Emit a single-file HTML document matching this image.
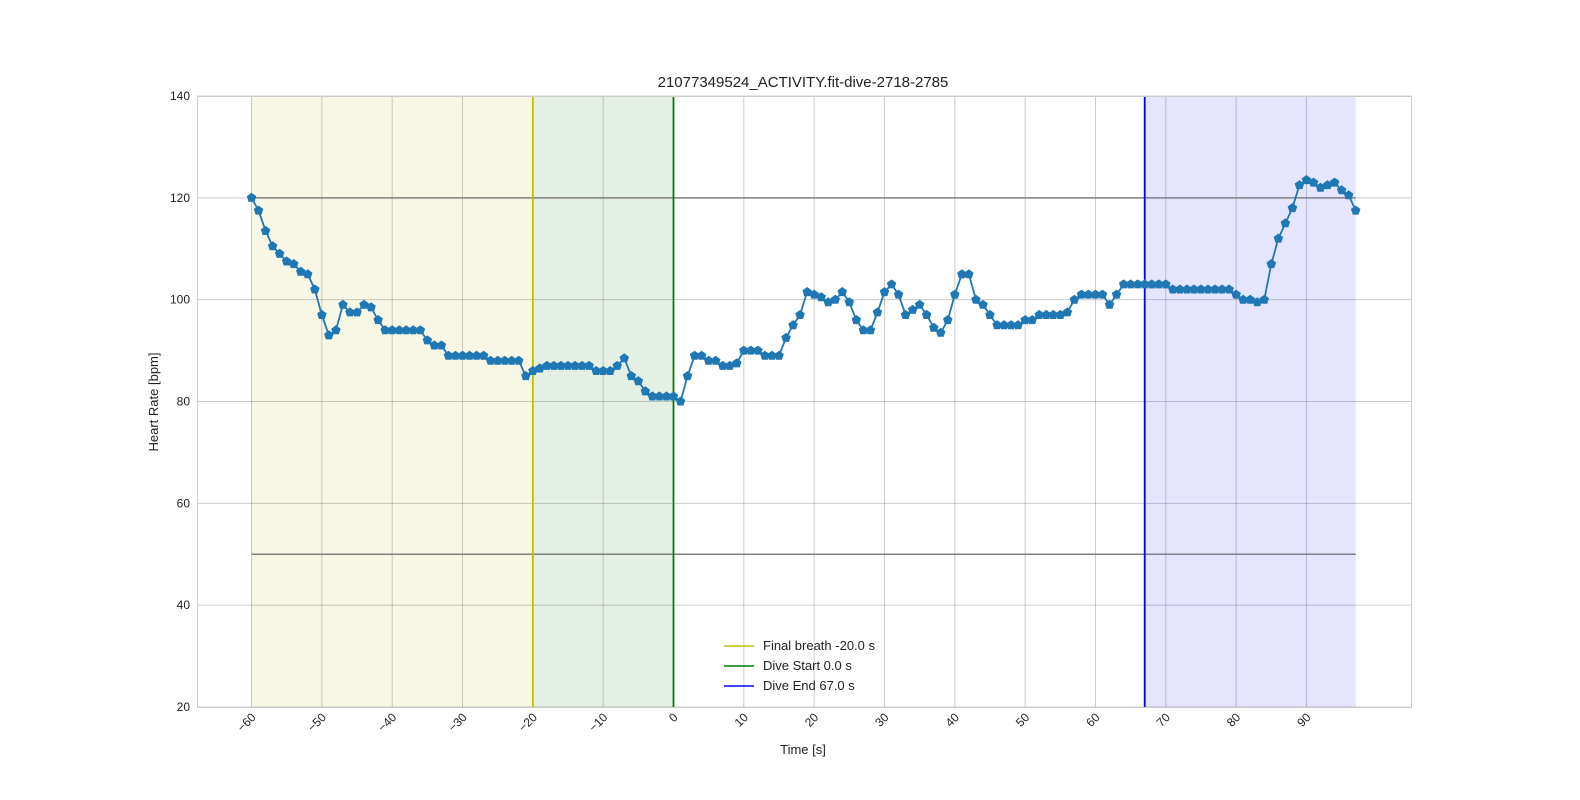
<!DOCTYPE html>
<html><head><meta charset="utf-8"><style>
body{margin:0;background:#fff;}
svg{display:block;font-family:"Liberation Sans",Arial,sans-serif;}
</style></head><body>
<svg id="s" width="1580" height="800" xmlns="http://www.w3.org/2000/svg">
<rect width="1580" height="800" fill="#fff"/>
<g id="bg"></g>
<g id="grid"></g>
<g id="lines"></g>
<g id="data"></g>
<rect x="197.5" y="96.5" width="1214" height="611" fill="none" stroke="#ccc" stroke-width="1"/>
<text x="803" y="87" font-size="15" text-anchor="middle" fill="#222">21077349524_ACTIVITY.fit-dive-2718-2785</text>
<text x="803" y="754" font-size="13" text-anchor="middle" fill="#222">Time [s]</text>
<text transform="translate(158,402) rotate(-90)" font-size="13" text-anchor="middle" fill="#222">Heart Rate [bpm]</text>
<g id="ticks" font-size="12" fill="#222"></g>
<g font-size="13" fill="#222">
<line x1="724" y1="646" x2="754" y2="646" stroke="#bfbf00" stroke-width="1.5"/><text x="763" y="650">Final breath -20.0 s</text>
<line x1="724" y1="666" x2="754" y2="666" stroke="#008000" stroke-width="1.5"/><text x="763" y="670">Dive Start 0.0 s</text>
<line x1="724" y1="686" x2="754" y2="686" stroke="#0000ff" stroke-width="1.5"/><text x="763" y="690">Dive End 67.0 s</text>
</g>
</svg>
<script>
const NS="http://www.w3.org/2000/svg";
const X=t=>673.5+7.033*t, Y=v=>96+(140-v)*5.0917;
function el(p,tag,a){const e=document.createElementNS(NS,tag);for(const k in a)e.setAttribute(k,a[k]);document.getElementById(p).appendChild(e);return e;}
el("bg","rect",{x:X(-60),y:96,width:X(-20)-X(-60),height:611,fill:"#f8f7e5"});
el("bg","rect",{x:X(-20),y:96,width:X(0)-X(-20),height:611,fill:"#e5f0e5"});
el("bg","rect",{x:X(67),y:96,width:X(97)-X(67),height:611,fill:"#e5e5ff"});
for(let t=-60;t<=90;t+=10){const x=X(t);el("grid","line",{x1:x,y1:96,x2:x,y2:707,stroke:"#000",  "stroke-opacity":0.2,"stroke-width":1});
 const tx=el("ticks","text",{transform:`translate(${x+5},${718}) rotate(-45)`,"text-anchor":"end"});tx.textContent=(t<0?"\u2212"+(-t):t);}
for(let v=20;v<=140;v+=20){const y=Y(v);el("grid","line",{x1:197,y1:y,x2:1411,y2:y,stroke:"#000","stroke-opacity":0.2,"stroke-width":1});
 const tx=el("ticks","text",{x:190,y:y+4,"text-anchor":"end"});tx.textContent=v;}
el("lines","line",{x1:X(-60),y1:Y(120),x2:X(97),y2:Y(120),stroke:"#808080","stroke-width":1.5});
el("lines","line",{x1:X(-60),y1:Y(50),x2:X(97),y2:Y(50),stroke:"#808080","stroke-width":1.5});
el("lines","line",{x1:X(-20),y1:96,x2:X(-20),y2:707,stroke:"#bfbf00","stroke-width":1.8});
el("lines","line",{x1:X(0),y1:96,x2:X(0),y2:707,stroke:"#008000","stroke-width":1.8});
el("lines","line",{x1:X(67),y1:96,x2:X(67),y2:707,stroke:"#0000ff","stroke-width":1.8});
const d=[120,117.5,113.5,110.5,109,107.5,107,105.5,105,102,97,93,94,99,97.5,97.5,99,98.5,96,94,94,94,94,94,94,92,91,91,89,89,89,89,89,89,88,88,88,88,88,85,86,86.5,87,87,87,87,87,87,87,86,86,86,87,88.5,85,84,82,81,81,81,81,
80,85,89,89,88,88,87,87,87.5,90,90,90,89,89,89,92.5,95,97,101.5,101,100.5,99.5,100,101.5,99.5,96,94,94,97.5,101.5,103,101,97,98,99,97,94.5,93.5,96,101,105,105,100,99,97,95,95,95,95,96,96,97,97,97,97,97.5,100,101,101,101,101,99,101,103,103,103,103,103,103,103,102,102,102,102,102,102,102,102,102,101,100,100,99.5,100,107,112,115,118,122.5,123.5,123,122,122.5,123,121.5,120.5,117.5];
let pts=d.map((v,i)=>[X(i-60),Y(v)]);
el("data","polyline",{points:pts.map(p=>p.join(",")).join(" "),fill:"none",stroke:"#1f77b4","stroke-width":1.8});
const r=5;
pts.forEach(([x,y])=>{let s=[];for(let k=0;k<5;k++){const a=-Math.PI/2+k*2*Math.PI/5;s.push((x+r*Math.cos(a)).toFixed(1)+","+(y+r*Math.sin(a)).toFixed(1));}
 el("data","polygon",{points:s.join(" "),fill:"#1f77b4"});});
</script>
</body></html>
